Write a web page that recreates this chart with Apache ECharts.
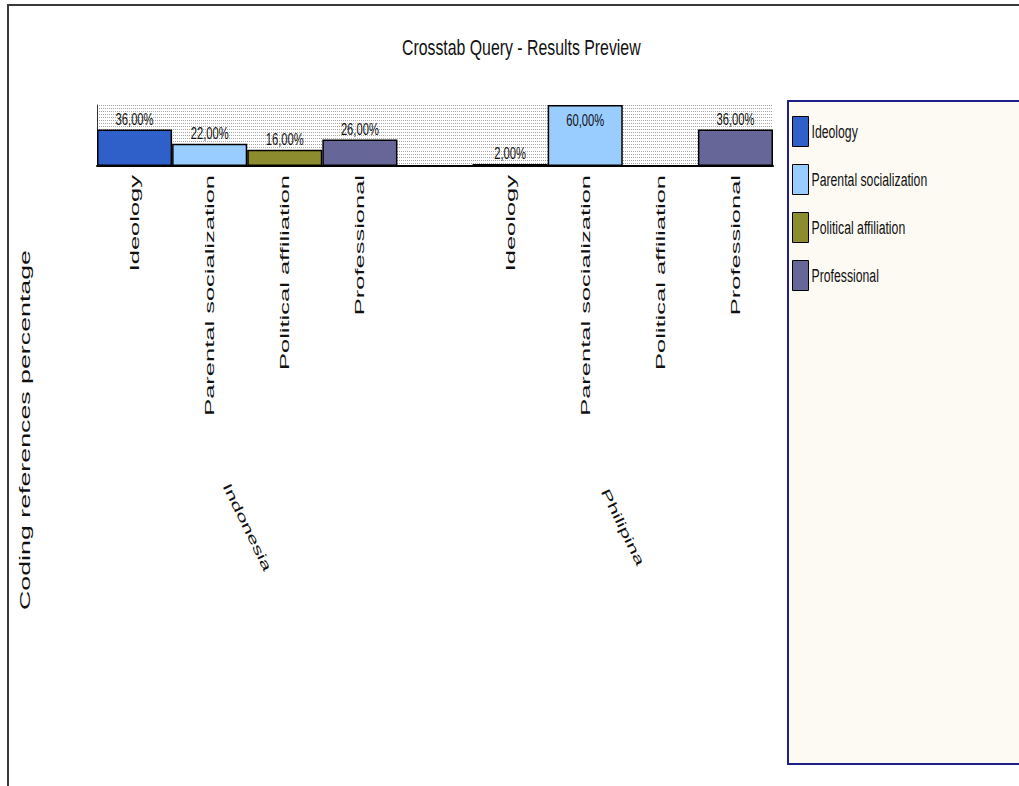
<!DOCTYPE html>
<html>
<head>
<meta charset="utf-8">
<title>Crosstab Query - Results Preview</title>
<script src="https://cdn.jsdelivr.net/npm/echarts@6/dist/echarts.min.js"></script>
<style>
  html, body { margin: 0; padding: 0; background: #ffffff; }
  #chart { width: 1019px; height: 786px; }
</style>
</head>
<body>
<div id="chart"></div>
<script>
// Query results: share of coding references per factor, by country
const groups = ['Indonesia', 'Philipina'];
const factors = ['Ideology', 'Parental socialization', 'Political affiliation', 'Professional'];
const indonesia = [36, 22, 16, 26];
const philipina = [2, 60, 0, 36];
const colors = ['#2f5fc8', '#99ccff', '#8c8c2e', '#666699'];
const titleText = 'Crosstab Query - Results Preview';
const yName = 'Coding references percentage';
const yMax = 60;

const FONT = "'Liberation Sans', Arial, sans-serif";

// one slot per factor in each country, with an empty slot between countries
const categories = factors.concat([''], factors);
const groupCenters = [factors.length / 2, factors.length + 1 + factors.length / 2];

const series = factors.map((name, i) => {
  const data = categories.map(() => '-');
  [indonesia[i], philipina[i]].forEach((v, g) => {
    const idx = g * (factors.length + 1) + i;
    data[idx] = v >= yMax
      ? { value: v, label: { position: 'insideTop', distance: 7 } }
      : v;
  });
  return {
    name: name,
    type: 'bar',
    stack: 'country',
    barWidth: '100%',
    data: data,
    itemStyle: { color: colors[i], borderColor: '#000', borderWidth: 1.5 },
    label: {
      show: true,
      position: 'top',
      distance: 2,
      fontFamily: FONT,
      fontSize: 16,
      color: '#111',
      formatter: p => (p.value ? p.value.toFixed(2).replace('.', ',') + '%' : '')
    }
  };
});

const chart = echarts.init(document.getElementById('chart'), null, { renderer: 'svg' });

chart.setOption({
  animation: false,
  backgroundColor: '#ffffff',
  title: {
    text: titleText,
    left: 402,
    top: 36,
    padding: 0,
    textStyle: { fontFamily: FONT, fontSize: 22, fontWeight: 'normal', color: '#111' }
  },
  graphic: [
    // outer frame
    { type: 'rect', z: -10, shape: { x: 8, y: 5, width: 1100, height: 900 },
      style: { fill: 'none', stroke: '#3a3a3a', lineWidth: 2 } },
    // legend panel
    { type: 'rect', z: -5, shape: { x: 788, y: 101, width: 300, height: 663 },
      style: { fill: '#fdfaf4', stroke: '#1f1f8a', lineWidth: 2 } },
    // value axis title
    { type: 'text', x: 25, y: 430, rotation: Math.PI / 2,
      style: { text: yName, font: '14px ' + FONT, fill: '#111', align: 'center', verticalAlign: 'middle' } }
  ],
  legend: {
    orient: 'vertical',
    left: 792,
    top: 116,
    itemWidth: 16,
    itemHeight: 30,
    itemGap: 17,
    padding: 0,
    icon: 'rect',
    itemStyle: { borderColor: '#000', borderWidth: 1 },
    textStyle: { fontFamily: FONT, fontSize: 18, color: '#111', padding: [0, 0, 0, -2] },
    data: factors
  },
  grid: { left: 97, right: 246, top: 105, height: 61, containLabel: false },
  xAxis: [
    {
      type: 'category',
      data: categories,
      boundaryGap: true,
      axisLine: { show: true, lineStyle: { color: '#000', width: 2 } },
      axisTick: { show: false },
      axisLabel: {
        interval: 0,
        rotate: 90,
        margin: 9,
        fontFamily: FONT,
        fontSize: 13,
        color: '#111'
      }
    },
    {
      type: 'value',
      position: 'bottom',
      min: 0,
      max: categories.length,
      interval: 1,
      axisLine: { show: false },
      axisTick: { show: false },
      splitLine: { show: false },
      axisLabel: {
        rotate: -64,
        align: 'center',
        verticalAlign: 'middle',
        margin: 361,
        fontFamily: FONT,
        fontSize: 13,
        color: '#111',
        formatter: v => {
          const g = groupCenters.indexOf(v);
          return g >= 0 ? groups[g] : '';
        }
      }
    }
  ],
  yAxis: {
    type: 'value',
    min: 0,
    max: yMax,
    interval: 3,
    axisLabel: { show: false },
    axisTick: { show: false },
    axisLine: { show: true, lineStyle: { color: '#333', width: 1 } },
    splitLine: { show: true, lineStyle: { color: '#a6a6a6', type: [1, 1], width: 1 } }
  },
  series: series
});

// Report-style text: axis texts are drawn long along their reading direction,
// horizontal captions are condensed.
function reshapeTexts() {
  const root = document.querySelector('#chart svg');
  if (!root) return;
  root.querySelectorAll('text').forEach(t => {
    if (t.dataset.reshaped) return;
    const s = t.textContent;
    const m = t.getCTM();
    if (!m) return;
    const vertical = Math.abs(m.a) < 0.02 && Math.abs(Math.abs(m.b) - 1) < 0.02;
    const flat = Math.abs(m.b) < 0.02 && m.a > 0;
    const len = t.getComputedTextLength();
    let target = 0;
    if (vertical && factors.includes(s)) target = len * 1.96;
    else if (groups.includes(s)) target = len * 1.7;
    else if (s === yName) target = 360;
    else if (flat && s === titleText) target = len * 0.72;
    else if (flat && factors.includes(s)) target = len * 0.68;
    else if (flat && /%$/.test(s)) target = len * 0.7;
    if (!target) return;
    t.setAttribute('textLength', target.toFixed(1));
    t.setAttribute('lengthAdjust', 'spacingAndGlyphs');
    t.dataset.reshaped = '1';
  });
}
chart.on('finished', reshapeTexts);
requestAnimationFrame(reshapeTexts);
setTimeout(reshapeTexts, 50);
</script>
</body>
</html>
